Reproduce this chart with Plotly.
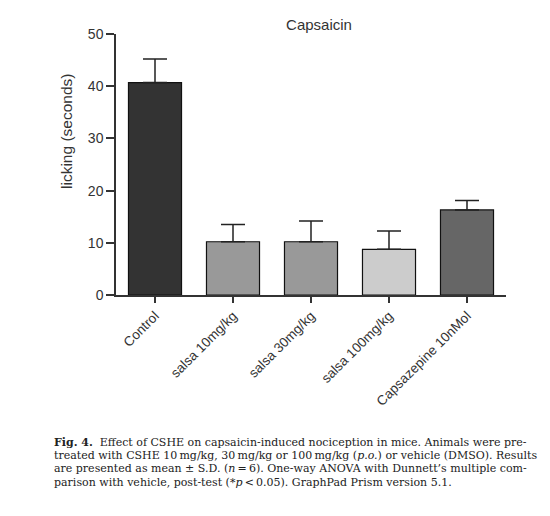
import plotly.graph_objects as go

# data
groups = ['Control', 'salsa 10mg/kg', 'salsa 30mg/kg', 'salsa 100mg/kg', 'Capsazepine 10nMol']
licking = [40.7, 10.2, 10.2, 8.75, 16.3]
sd = [4.5, 3.3, 4.0, 3.5, 1.8]
bar_colors = ['#333333', '#999999', '#999999', '#cccccc', '#666666']
y_ticks = [0, 10, 20, 30, 40, 50]

ts = '\u2009'  # thin space, as in the printed caption
caption = [
    '<b>Fig. 4.</b>  Effect of CSHE on capsaicin-induced nociception in mice. Animals were pre-',
    f'treated with CSHE 10{ts}mg/kg, 30{ts}mg/kg or 100{ts}mg/kg (<i>p.o.</i>) or vehicle (DMSO). Results',
    f'are presented as mean \u00b1 S.D. (<i>n</i>{ts}={ts}6). One-way ANOVA with Dunnett\u2019s multiple com-',
    f'parison with vehicle, post-test (*<i>p</i>{ts}<{ts}0.05). GraphPad Prism version 5.1.',
]

W, H = 550, 516
axis_col = '#333333'

fig = go.Figure()
fig.add_trace(go.Bar(
    x=groups,
    y=licking,
    width=0.68,
    marker=dict(color=bar_colors, line=dict(color='#111111', width=1.2)),
    error_y=dict(type='data', symmetric=False, array=sd, arrayminus=[0] * len(sd),
                 color='#222222', thickness=1.5, width=12),
    showlegend=False,
))

fig.update_layout(
    width=W, height=H,
    margin=dict(l=0, r=0, t=0, b=0, autoexpand=False),
    paper_bgcolor='white', plot_bgcolor='white',
    font=dict(family='Liberation Sans, Arial, sans-serif', color='#333333'),
    title=dict(text='Capsaicin', x=319 / W, y=1 - 25 / H, xanchor='center', yanchor='middle',
               font=dict(size=15, color='#333333')),
    xaxis=dict(domain=[116 / W, 506 / W], range=[-0.5, 4.5], showline=True, automargin=False,
               linecolor=axis_col, linewidth=1.5, ticks='outside', ticklen=6,
               tickcolor=axis_col, tickwidth=1.5, tickangle=-45,
               tickfont=dict(size=13.5, color='#333333'), showgrid=False),
    yaxis=dict(domain=[1 - 295 / H, 1 - 34 / H], range=[0, 50], tickvals=y_ticks, automargin=False,
               showline=True, linecolor=axis_col, linewidth=1.5, ticks='outside',
               ticklen=8, tickcolor=axis_col, tickwidth=1.5, showgrid=False, zeroline=False,
               tickfont=dict(size=14, color='#333333')),
)

# y axis title
fig.add_annotation(text='licking (seconds)', x=66 / W, y=1 - 132 / H, xref='paper', yref='paper',
                   xanchor='center', yanchor='middle',
                   showarrow=False, textangle=-90, font=dict(size=15.5, color='#333333'))

# caption lines
for i, line in enumerate(caption):
    fig.add_annotation(text=line, x=52 / W, y=1 - (442 + i * 13.4) / H, xref='paper', yref='paper',
                       xanchor='left', yanchor='middle', showarrow=False,
                       font=dict(family='DejaVu Serif, serif', size=11, color='#222222'))

fig.write_html('out.html', config={'displayModeBar': False},
               post_script="document.body.style.margin='0';")
